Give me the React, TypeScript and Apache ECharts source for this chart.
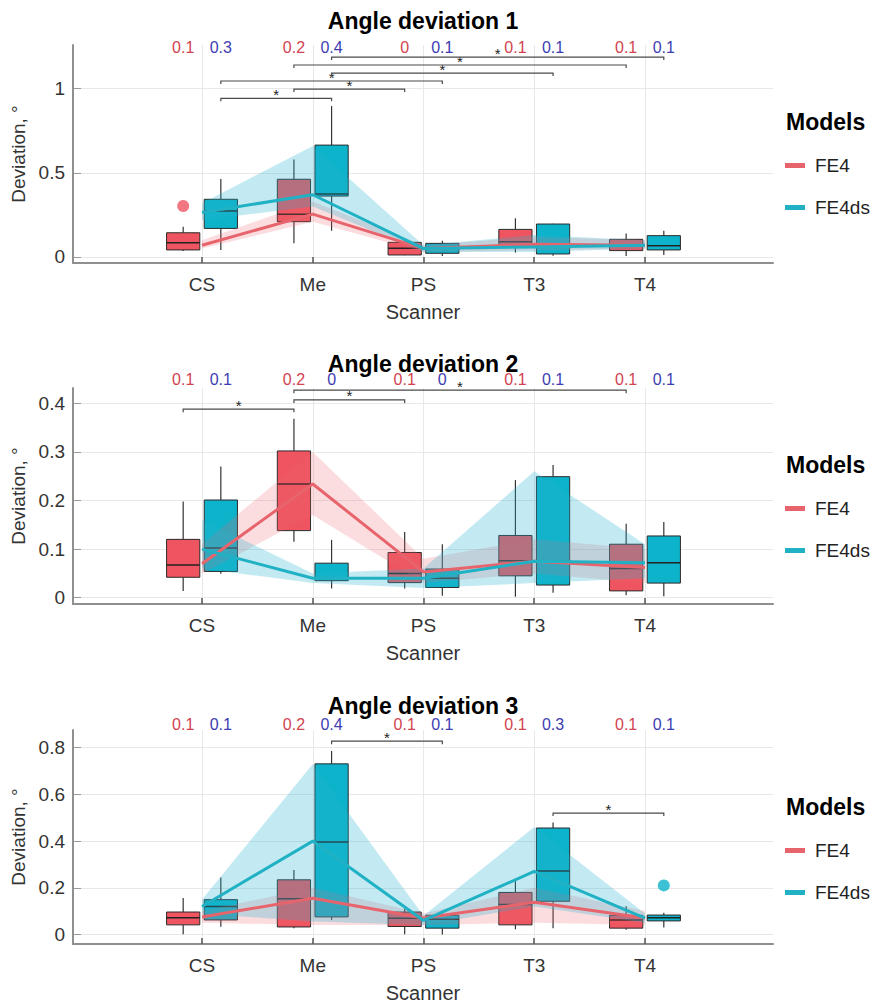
import React, { useEffect, useRef } from "react";
import * as echarts from "echarts";

const FONT = "'Liberation Sans', Arial, sans-serif";

const scanners = ["CS", "Me", "PS", "T3", "T4"];
const models = ["FE4", "FE4ds"];
const panelTitles = ["Angle deviation 1", "Angle deviation 2", "Angle deviation 3"];

// y axis ranges and tick values
const yMins = [-0.0357, -0.013, -0.041];
const yMaxs = [1.26, 0.4315, 0.876];
const yTicks1 = [0, 0.5, 1];
const yTicks2 = [0, 0.1, 0.2, 0.3, 0.4];
const yTicks3 = [0, 0.2, 0.4, 0.6, 0.8];

// box stats per scanner: [low whisker, q1, median, q3, high whisker]
const p1BoxFE4 = [
  [0.035, 0.042, 0.085, 0.144, 0.18],
  [0.081, 0.21, 0.254, 0.462, 0.58],
  [0.01, 0.012, 0.052, 0.087, 0.1],
  [0.026, 0.071, 0.09, 0.164, 0.23],
  [0.006, 0.038, 0.071, 0.105, 0.14],
];
const p1BoxFE4ds = [
  [0.042, 0.17, 0.273, 0.343, 0.463],
  [0.156, 0.362, 0.375, 0.665, 0.897],
  [0.006, 0.022, 0.052, 0.081, 0.097],
  [0.008, 0.018, 0.075, 0.196, 0.198],
  [0.012, 0.042, 0.067, 0.127, 0.156],
];
const p2BoxFE4 = [
  [0.014, 0.042, 0.067, 0.12, 0.198],
  [0.115, 0.138, 0.234, 0.302, 0.368],
  [0.019, 0.031, 0.05, 0.093, 0.135],
  [0.002, 0.045, 0.076, 0.128, 0.242],
  [0.005, 0.014, 0.06, 0.11, 0.152],
];
const p2BoxFE4ds = [
  [0.049, 0.054, 0.102, 0.201, 0.27],
  [0.019, 0.035, 0.04, 0.071, 0.119],
  [0.004, 0.021, 0.04, 0.059, 0.11],
  [0.01, 0.026, 0.075, 0.249, 0.273],
  [0.003, 0.03, 0.072, 0.127, 0.156],
];
const p3BoxFE4 = [
  [0.001, 0.041, 0.072, 0.096, 0.156],
  [0.027, 0.032, 0.153, 0.234, 0.276],
  [0.001, 0.034, 0.069, 0.096, 0.11],
  [0.022, 0.041, 0.128, 0.18, 0.231],
  [0.02, 0.027, 0.062, 0.082, 0.121],
];
const p3BoxFE4ds = [
  [0.033, 0.062, 0.12, 0.149, 0.244],
  [0.062, 0.075, 0.396, 0.731, 0.786],
  [0.0, 0.027, 0.065, 0.082, 0.09],
  [0.027, 0.142, 0.272, 0.456, 0.48],
  [0.03, 0.058, 0.072, 0.083, 0.093],
];

// mean lines
const p1MeanFE4 = [0.07, 0.255, 0.05, 0.075, 0.07];
const p1MeanFE4ds = [0.265, 0.37, 0.05, 0.06, 0.07];
const p2MeanFE4 = [0.07, 0.234, 0.053, 0.075, 0.062];
const p2MeanFE4ds = [0.1, 0.04, 0.04, 0.075, 0.072];
const p3MeanFE4 = [0.075, 0.155, 0.07, 0.138, 0.07];
const p3MeanFE4ds = [0.12, 0.4, 0.06, 0.27, 0.07];

// confidence bands [low, high]
const p1BandFE4 = [[0.05, 0.1], [0.21, 0.33], [0.03, 0.07], [0.04, 0.12], [0.05, 0.1]];
const p1BandFE4ds = [[0.22, 0.32], [0.3, 0.66], [0.03, 0.07], [0.03, 0.13], [0.05, 0.1]];
const p2BandFE4 = [[0.05, 0.11], [0.17, 0.3], [0.03, 0.08], [0.05, 0.12], [0.03, 0.1]];
const p2BandFE4ds = [[0.06, 0.16], [0.03, 0.05], [0.02, 0.06], [0.03, 0.26], [0.04, 0.11]];
const p3BandFE4 = [[0.05, 0.1], [0.04, 0.2], [0.04, 0.09], [0.05, 0.2], [0.04, 0.1]];
const p3BandFE4ds = [[0.09, 0.15], [0.055, 0.73], [0.04, 0.08], [0.12, 0.46], [0.05, 0.09]];

// outliers [scanner index, value]
const p1OutFE4 = [[0, 0.303]];
const p1OutFE4ds: number[][] = [];
const p2OutFE4: number[][] = [];
const p2OutFE4ds: number[][] = [];
const p3OutFE4: number[][] = [];
const p3OutFE4ds = [[4, 0.21]];

// numbers shown above each box
const p1NumFE4 = ["0.1", "0.2", "0", "0.1", "0.1"];
const p1NumFE4ds = ["0.3", "0.4", "0.1", "0.1", "0.1"];
const p2NumFE4 = ["0.1", "0.2", "0.1", "0.1", "0.1"];
const p2NumFE4ds = ["0.1", "0", "0", "0.1", "0.1"];
const p3NumFE4 = ["0.1", "0.2", "0.1", "0.1", "0.1"];
const p3NumFE4ds = ["0.1", "0.4", "0.1", "0.3", "0.1"];
const numY = [1.248, 0.448, 0.9];

// significance brackets: [scannerA, modelA, scannerB, modelB, level]
const p1Sig = [
  [0, 1, 1, 1, 0.943],
  [1, 0, 2, 0, 0.998],
  [0, 1, 2, 1, 1.046],
  [1, 1, 3, 1, 1.093],
  [1, 0, 4, 0, 1.141],
  [1, 1, 4, 1, 1.188],
];
const p2Sig = [
  [0, 0, 1, 0, 0.388],
  [1, 0, 2, 0, 0.407],
  [1, 0, 4, 0, 0.427],
];
const p3Sig = [
  [1, 1, 2, 1, 0.828],
  [3, 1, 4, 1, 0.52],
];

const panels = [
  { boxes: [p1BoxFE4, p1BoxFE4ds], means: [p1MeanFE4, p1MeanFE4ds], bands: [p1BandFE4, p1BandFE4ds], outs: [p1OutFE4, p1OutFE4ds], nums: [p1NumFE4, p1NumFE4ds], sig: p1Sig, ticks: yTicks1 },
  { boxes: [p2BoxFE4, p2BoxFE4ds], means: [p2MeanFE4, p2MeanFE4ds], bands: [p2BandFE4, p2BandFE4ds], outs: [p2OutFE4, p2OutFE4ds], nums: [p2NumFE4, p2NumFE4ds], sig: p2Sig, ticks: yTicks2 },
  { boxes: [p3BoxFE4, p3BoxFE4ds], means: [p3MeanFE4, p3MeanFE4ds], bands: [p3BandFE4, p3BandFE4ds], outs: [p3OutFE4, p3OutFE4ds], nums: [p3NumFE4, p3NumFE4ds], sig: p3Sig, ticks: yTicks3 },
];

const gridTops = [45, 388, 730];
const gridHeights = [218, 216, 217];
const GRID_LEFT = 73;
const GRID_WIDTH = 700;
const X_MIN = -0.165;
const X_MAX = 6.156;
const OFFSETS = [-0.17, 0.17];
const BOX_W = 0.3;

const boxFill = ["#ee5560", "#0cb3ca"];
const lineColor = ["#e8646d", "#20b2c4"];
const bandFill = ["rgba(240,100,110,0.22)", "rgba(40,180,210,0.28)"];
const numColor = ["#d2434f", "#3d3db2"];

export default function App() {
  const ref = useRef<HTMLDivElement>(null);

  useEffect(() => {
    if (!ref.current) return;
    const chart = echarts.init(ref.current, undefined, { renderer: "svg" });

    const grid: any[] = [];
    const xAxis: any[] = [];
    const yAxis: any[] = [];
    const series: any[] = [];
    const legend: any[] = [];
    const graphic: any[] = [];

    panels.forEach((p, i) => {
      grid.push({ left: GRID_LEFT, width: GRID_WIDTH, top: gridTops[i], height: gridHeights[i], containLabel: false });
      xAxis.push({
        type: "value",
        gridIndex: i,
        min: X_MIN,
        max: X_MAX,
        axisLine: { show: true, onZero: false, lineStyle: { color: "#8f8f8f", width: 2 } },
        axisTick: { show: true, inside: true, length: 6, customValues: [1, 2, 3, 4, 5], lineStyle: { color: "#555", width: 1.5 } },
        axisLabel: {
          customValues: [1, 2, 3, 4, 5],
          formatter: (v: number) => scanners[Math.round(v) - 1] || "",
          fontSize: 19,
          color: "#333",
          margin: 12,
          fontFamily: FONT,
        },
        splitLine: { show: true, lineStyle: { color: "#e8e8e8", width: 1 } },
        name: "Scanner",
        nameLocation: "middle",
        nameGap: 39,
        nameTextStyle: { fontSize: 20, color: "#333", fontFamily: FONT },
      });
      yAxis.push({
        type: "value",
        gridIndex: i,
        min: yMins[i],
        max: yMaxs[i],
        axisLine: { show: true, onZero: false, lineStyle: { color: "#8f8f8f", width: 2 } },
        axisTick: { show: true, inside: true, length: 8, customValues: p.ticks, lineStyle: { color: "#999", width: 1 } },
        axisLabel: {
          customValues: p.ticks,
          formatter: (v: number) => String(v),
          fontSize: 19,
          color: "#333",
          margin: 8,
          fontFamily: FONT,
        },
        splitLine: { show: true, lineStyle: { color: "#e8e8e8", width: 1 } },
        name: "Deviation, °",
        nameLocation: "middle",
        nameGap: 43,
        nameTextStyle: { fontSize: 19, color: "#333", fontFamily: FONT },
      });

      // boxes
      models.forEach((m, j) => {
        series.push({
          type: "custom",
          name: m + " box",
          xAxisIndex: i,
          yAxisIndex: i,
          z: 2,
          data: p.boxes[j].map((s, k) => [k + 1 + OFFSETS[j], ...s]),
          encode: { x: 0, y: [1, 2, 3, 4, 5] },
          renderItem: (params: any, api: any) => {
            const x = api.value(0);
            const lo = api.coord([x, api.value(1)]);
            const q1 = api.coord([x, api.value(2)]);
            const md = api.coord([x, api.value(3)]);
            const q3 = api.coord([x, api.value(4)]);
            const hi = api.coord([x, api.value(5)]);
            const w = api.size([BOX_W, 0])[0];
            const cx = q1[0];
            return {
              type: "group",
              children: [
                { type: "line", shape: { x1: cx, y1: hi[1], x2: cx, y2: q3[1] }, style: { stroke: "#333", lineWidth: 1.2 } },
                { type: "line", shape: { x1: cx, y1: q1[1], x2: cx, y2: lo[1] }, style: { stroke: "#333", lineWidth: 1.2 } },
                { type: "rect", shape: { x: cx - w / 2, y: q3[1], width: w, height: q1[1] - q3[1] }, style: { fill: boxFill[j], stroke: "#2b2b2b", lineWidth: 1 } },
                { type: "line", shape: { x1: cx - w / 2, y1: md[1], x2: cx + w / 2, y2: md[1] }, style: { stroke: "#222", lineWidth: 1.5 } },
              ],
            };
          },
        });
      });

      // bands
      models.forEach((m, j) => {
        series.push({
          type: "custom",
          name: m + " band",
          xAxisIndex: i,
          yAxisIndex: i,
          z: 3,
          data: p.bands[j].map((b, k) => [k + 1, b[0], b[1]]),
          encode: { x: 0, y: [1, 2] },
          renderItem: (params: any, api: any) => {
            if (params.dataIndexInside !== 0) return null;
            const n = params.dataInsideLength;
            const top: number[][] = [];
            const bottom: number[][] = [];
            for (let k = 0; k < n; k++) {
              const x = api.value(0, k);
              top.push(api.coord([x, api.value(2, k)]));
              bottom.push(api.coord([x, api.value(1, k)]));
            }
            return { type: "polygon", shape: { points: top.concat(bottom.reverse()) }, style: { fill: bandFill[j] } };
          },
        });
      });

      // mean lines
      models.forEach((m, j) => {
        series.push({
          type: "line",
          name: m,
          xAxisIndex: i,
          yAxisIndex: i,
          z: 4,
          color: lineColor[j],
          itemStyle: { color: lineColor[j] },
          symbol: "none",
          showSymbol: false,
          lineStyle: { width: 3, color: lineColor[j] },
          data: p.means[j].map((v, k) => [k + 1, v]),
        });
      });

      // outliers
      models.forEach((m, j) => {
        if (!p.outs[j].length) return;
        series.push({
          type: "scatter",
          name: m + " outlier",
          xAxisIndex: i,
          yAxisIndex: i,
          z: 5,
          symbolSize: 12,
          itemStyle: { color: boxFill[j] },
          data: p.outs[j].map((o) => [o[0] + 1 + OFFSETS[j], o[1]]),
        });
      });

      // numbers above boxes
      models.forEach((m, j) => {
        const labels = p.nums[j];
        series.push({
          type: "custom",
          name: m + " value",
          xAxisIndex: i,
          yAxisIndex: i,
          z: 5,
          clip: false,
          data: labels.map((_, k) => [k + 1 + OFFSETS[j], numY[i]]),
          encode: { x: 0, y: 1 },
          renderItem: (params: any, api: any) => {
            const pt = api.coord([api.value(0), api.value(1)]);
            return {
              type: "text",
              x: pt[0],
              y: pt[1],
              style: { text: labels[params.dataIndex], fill: numColor[j], fontSize: 16, fontFamily: FONT, align: "center", verticalAlign: "middle" },
            };
          },
        });
      });

      // significance brackets
      series.push({
        type: "custom",
        name: "significance",
        xAxisIndex: i,
        yAxisIndex: i,
        z: 6,
        clip: false,
        data: p.sig.map((s) => [s[0] + 1 + OFFSETS[s[1]], s[2] + 1 + OFFSETS[s[3]], s[4]]),
        encode: { x: [0, 1], y: 2 },
        renderItem: (params: any, api: any) => {
          const a = api.coord([api.value(0), api.value(2)]);
          const b = api.coord([api.value(1), api.value(2)]);
          return {
            type: "group",
            children: [
              {
                type: "polyline",
                shape: { points: [[a[0], a[1] + 3], [a[0], a[1]], [b[0], b[1]], [b[0], b[1] + 3]] },
                style: { stroke: "#4a4a4a", lineWidth: 1.2, fill: null },
              },
              {
                type: "text",
                x: (a[0] + b[0]) / 2,
                y: a[1] - 4,
                style: { text: "*", fill: "#222", fontSize: 15, fontFamily: FONT, align: "center", verticalAlign: "middle" },
              },
            ],
          };
        },
      });

      legend.push({
        data: models,
        orient: "vertical",
        left: 785,
        top: gridTops[i] + 111,
        itemWidth: 20,
        itemHeight: 5,
        itemGap: 23,
        icon: "rect",
        padding: 0,
        selectedMode: false,
        textStyle: { fontSize: 19, color: "#222", fontFamily: FONT, padding: [0, 0, 0, 5] },
      });

      graphic.push({
        type: "text",
        x: 423,
        y: gridTops[i] - 24,
        style: { text: panelTitles[i], fontSize: 23, fontWeight: "bold", fontFamily: FONT, fill: "#000", align: "center", verticalAlign: "middle" },
      });
      graphic.push({
        type: "text",
        x: 786,
        y: gridTops[i] + 77,
        style: { text: "Models", fontSize: 23, fontWeight: "bold", fontFamily: FONT, fill: "#000", align: "left", verticalAlign: "middle" },
      });
    });

    chart.setOption({
      animation: false,
      backgroundColor: "#ffffff",
      textStyle: { fontFamily: FONT },
      grid,
      xAxis,
      yAxis,
      series,
      legend,
      graphic,
    });

    return () => {
      chart.dispose();
    };
  }, []);

  return (
    <div
      ref={ref}
      style={{ position: "fixed", left: 0, top: 0, width: 877, height: 1004, background: "#fff" }}
    />
  );
}
